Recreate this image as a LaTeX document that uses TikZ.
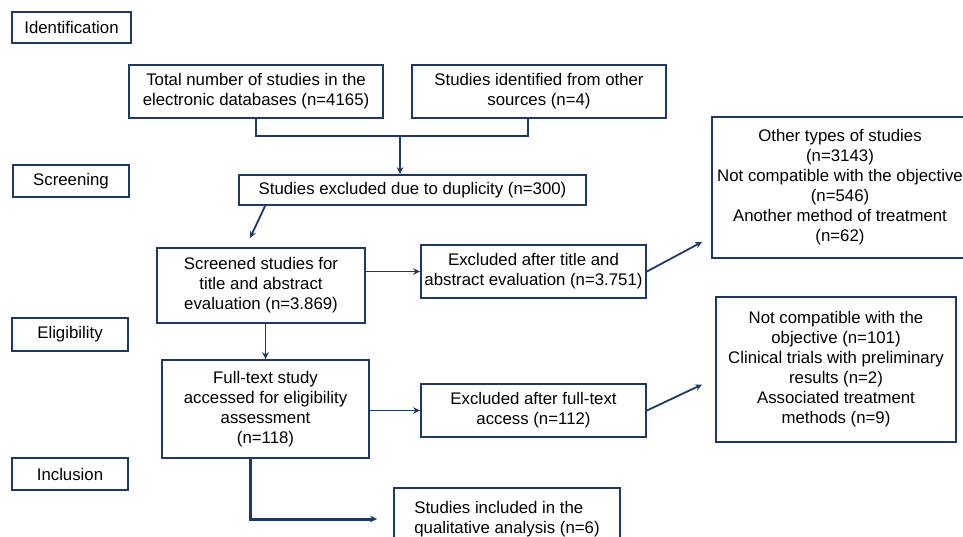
\documentclass[tikz,border=0pt]{standalone}
\usepackage{fontspec}
\setmainfont{Liberation Sans}
\usepackage{tikz}
\usetikzlibrary{arrows.meta}
\definecolor{navy}{RGB}{31,56,100}
\tikzset{
	box/.style={draw=navy, line width=1.8pt, align=center, inner sep=0pt, font=\fontsize{16.8}{20}\selectfont},
	stage/.style={box, line width=2.8pt},
	link/.style={navy, line width=1.8pt, ->},
}

\begin{document}
\begin{tikzpicture}[x=1pt, y=-1pt, >={Stealth[length=7pt,width=6.5pt]}]
	\useasboundingbox (0,0) rectangle (963,536);
	\clip (0,0) rectangle (963,536);
	\node[stage, minimum width=119, minimum height=31] (ident) at (71.5,27.5) {Identification};
	\node[stage, minimum width=116, minimum height=32] (screen) at (71,181) {Screening};
	\node[stage, minimum width=116, minimum height=33] (elig) at (70,334.5) {Eligibility};
	\node[stage, minimum width=116, minimum height=32] (incl) at (70,474) {Inclusion};
	\node[box, minimum width=254, minimum height=53] (total) at (256,91.5) {Total number of studies in the\\electronic databases (n=4165)};
	\node[box, minimum width=254, minimum height=53] (other) at (539,91.5) {Studies identified from other\\sources (n=4)};
	\node[box, minimum width=347, minimum height=30] (dup) at (412.5,190) {Studies excluded due to duplicity (n=300)};
	\node[box, minimum width=208, minimum height=75] (scr) at (261,285.5) {Screened studies for\\title and abstract\\evaluation (n=3.869)};
	\node[box, minimum width=225, minimum height=53] (exta) at (533.5,271.5) {Excluded after title and\\abstract evaluation (n=3.751)};
	\node[box, minimum width=256, minimum height=141] (whyta) at (840,187.5) {Other types of studies\\(n=3143)\\Not compatible with the objective\\(n=546)\\Another method of treatment\\(n=62)};
	\node[box, minimum width=207, minimum height=98] (full) at (265.5,409) {Full-text study\\accessed for eligibility\\assessment\\(n=118)};
	\node[box, minimum width=225, minimum height=53] (exft) at (533.5,410.5) {Excluded after full-text\\access (n=112)};
	\node[box, minimum width=240, minimum height=145] (whyft) at (836,369.5) {Not compatible with the\\objective (n=101)\\Clinical trials with preliminary\\results (n=2)\\Associated treatment\\methods (n=9)};
	\node[box, align=left, minimum width=226, minimum height=62] (qual) at (507,519) {Studies included in the\\qualitative analysis (n=6)};
	\coordinate (join) at (400,136);
	\draw[navy, line width=1.8pt] (total.south) |- (join) -| ([xshift=-11pt]other.south);
	\draw[link] (join) -- (dup.north -| join);
	\draw[link] ([xshift=27pt]dup.south west) -- ([shift={(-11pt,9pt)}]scr.north);
	\draw[link] (scr.east |- exta) -- (exta.west);
	\draw[link] (exta.east) -- ([shift={(-9pt,17pt)}]whyta.south west);
	\draw[link] (scr.south -| full.north) -- (full.north);
	\draw[link] (full.east |- exft) -- (exft.west);
	\draw[link] (exft.east) -- ([shift={(-13pt,-15pt)}]whyft.west);
	\draw[link, line width=3pt] ([xshift=-15pt]full.south) |- ([xshift=-16pt]qual.west);
\end{tikzpicture}
\end{document}
